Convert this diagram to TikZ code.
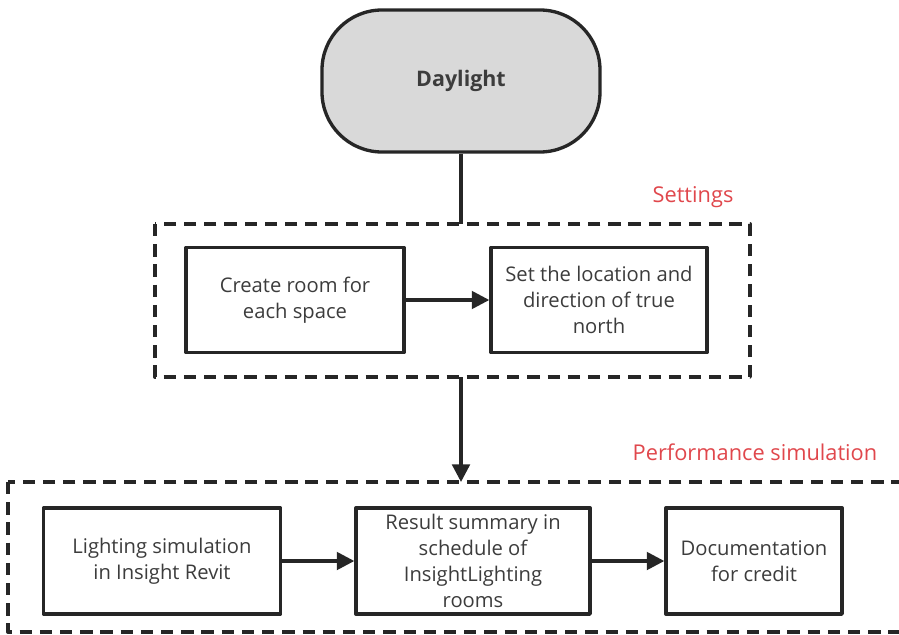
\documentclass[tikz,border=0pt]{standalone}
\usepackage{fontspec}
\setmainfont{Open Sans}
\usepackage{xcolor}
\usetikzlibrary{arrows.meta,positioning,shapes.misc}

\definecolor{inkgray}{HTML}{262626}
\definecolor{startgray}{HTML}{D9D9D9}
\definecolor{grouplabel}{HTML}{E0474C}

\begin{document}
\begin{tikzpicture}[x=0.02cm, y=-0.02cm, >={Triangle[length=10pt,width=10pt]}, line join=round,
  stepbox/.style={draw=inkgray, line width=1.9pt, align=center, inner sep=0pt,
    font=\fontsize{11.5}{14.8}\selectfont, text=inkgray!90},
  groupbox/.style={draw=inkgray, line width=1.9pt, dash pattern=on 7pt off 4.5pt},
  flow/.style={->, draw=inkgray, line width=1.9pt},
  tag/.style={text=grouplabel, font=\fontsize{12.4}{15}\selectfont}]
  \useasboundingbox (0,0) rectangle (899,635);
  % start
  \node[stepbox, rectangle, rounded corners=1.2cm, fill=startgray, minimum width=278*0.02cm,
    minimum height=142*0.02cm, font=\fontsize{12.2}{15}\bfseries] (day) at (461,81) {Daylight};
  % settings group
  \draw[groupbox] (155,224) rectangle (750,377);
  \coordinate (setN) at (461,224);
  \coordinate (setS) at (461,377);
  \node[tag] (settag) at (693,197) {Settings};
  \node[stepbox, minimum width=218*0.02cm, minimum height=105*0.02cm] (room) at (295,300)
    {Create room for\\each space};
  \node[stepbox, minimum width=216*0.02cm, minimum height=105*0.02cm] (north) at (599,300)
    {Set the location and\\direction of true\\north};
  % performance simulation group
  \draw[groupbox] (8,482) rectangle (912,632);
  \coordinate (perfN) at (461,482);
  \node[tag] (perftag) at (755,452) {Performance simulation};
  \node[stepbox, minimum width=237*0.02cm, minimum height=106*0.02cm] (sim) at (162,561)
    {Lighting simulation\\in Insight Revit};
  \node[stepbox, minimum width=234*0.02cm, minimum height=106*0.02cm] (sum) at (473,561)
    {Result summary in\\schedule of\\InsightLighting\\rooms};
  \node[stepbox, minimum width=176*0.02cm, minimum height=106*0.02cm] (doc) at (754,561)
    {Documentation\\for credit};
  % connectors
  \draw[draw=inkgray, line width=1.9pt] (day) -- (setN);
  \draw[flow] (room) -- (north);
  \draw[flow] (setS) -- (perfN);
  \draw[flow] (sim) -- (sum);
  \draw[flow] (sum) -- (doc);
\end{tikzpicture}
\end{document}
